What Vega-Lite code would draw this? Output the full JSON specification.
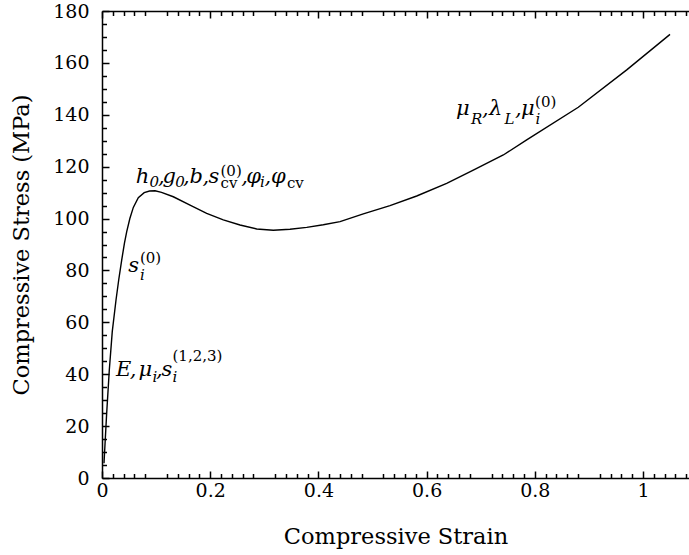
{
  "$schema": "https://vega.github.io/schema/vega-lite/v6.json",
  "width": 587,
  "height": 467,
  "autosize": {"type": "none"},
  "padding": {"left": 102, "top": 11, "right": 0, "bottom": 77},
  "background": "white",
  "config": {
    "view": {"stroke": null},
    "axis": {
      "grid": false,
      "domainColor": "black",
      "domainWidth": 1.5,
      "tickColor": "black",
      "tickWidth": 1.5,
      "labelColor": "black",
      "titleColor": "black",
      "labelFont": "DejaVu Serif",
      "titleFont": "DejaVu Serif",
      "labelFontSize": 19,
      "titleFontSize": 22.5,
      "titleFontWeight": "normal",
      "labelBound": false,
      "labelFlush": false,
      "labelOverlap": false
    },
    "text": {"color": "black", "align": "left", "baseline": "alphabetic", "font": "DejaVu Serif"}
  },
  "datasets": {
    "curve": [
      {"strain": 0.0037, "stress": 5.7},
      {"strain": 0.0085, "stress": 24.5},
      {"strain": 0.0135, "stress": 41.6},
      {"strain": 0.019, "stress": 56.5},
      {"strain": 0.0259, "stress": 68.6},
      {"strain": 0.031, "stress": 76.5},
      {"strain": 0.0364, "stress": 84.0},
      {"strain": 0.0415, "stress": 90.5},
      {"strain": 0.0457, "stress": 95.0},
      {"strain": 0.0515, "stress": 100.0},
      {"strain": 0.0579, "stress": 104.3},
      {"strain": 0.0671, "stress": 108.0},
      {"strain": 0.078, "stress": 110.0},
      {"strain": 0.088, "stress": 110.6},
      {"strain": 0.098, "stress": 110.7},
      {"strain": 0.11, "stress": 110.1},
      {"strain": 0.1318, "stress": 108.4},
      {"strain": 0.1627, "stress": 105.2},
      {"strain": 0.1935, "stress": 102.0},
      {"strain": 0.2242, "stress": 99.5},
      {"strain": 0.2551, "stress": 97.5},
      {"strain": 0.286, "stress": 96.0},
      {"strain": 0.3166, "stress": 95.5},
      {"strain": 0.3475, "stress": 95.9},
      {"strain": 0.3784, "stress": 96.6},
      {"strain": 0.409, "stress": 97.6},
      {"strain": 0.44, "stress": 98.8},
      {"strain": 0.483, "stress": 101.8},
      {"strain": 0.5323, "stress": 105.0},
      {"strain": 0.5817, "stress": 108.7},
      {"strain": 0.6371, "stress": 113.6},
      {"strain": 0.6863, "stress": 118.7},
      {"strain": 0.7418, "stress": 124.5},
      {"strain": 0.785, "stress": 130.3},
      {"strain": 0.8804, "stress": 142.9},
      {"strain": 0.9699, "stress": 157.3},
      {"strain": 1.0499, "stress": 171.0}
    ],
    "notes": [
      {"strain": 0.0259, "stress": 39.3, "t": "E", "role": "it"},
      {"strain": 0.0515, "stress": 39.3, "t": ",", "role": "it"},
      {"strain": 0.0675, "stress": 39.3, "t": "μ", "role": "it"},
      {"strain": 0.0933, "stress": 37.1, "t": "i", "role": "subit"},
      {"strain": 0.0998, "stress": 39.3, "t": ",", "role": "it"},
      {"strain": 0.11, "stress": 39.3, "t": "s", "role": "it"},
      {"strain": 0.1305, "stress": 36.9, "t": "i", "role": "subit"},
      {"strain": 0.1303, "stress": 45.1, "t": "(1,2,3)", "role": "rm"},

      {"strain": 0.0486, "stress": 79.5, "t": "s", "role": "it"},
      {"strain": 0.0702, "stress": 76.3, "t": "i", "role": "subit"},
      {"strain": 0.0702, "stress": 82.8, "t": "(0)", "role": "rm"},

      {"strain": 0.0623, "stress": 113.6, "t": "h", "role": "it"},
      {"strain": 0.0878, "stress": 112.2, "t": "0", "role": "subit"},
      {"strain": 0.1035, "stress": 113.6, "t": ",", "role": "it"},
      {"strain": 0.1118, "stress": 113.6, "t": "g", "role": "it"},
      {"strain": 0.1352, "stress": 112.2, "t": "0", "role": "subit"},
      {"strain": 0.1495, "stress": 113.6, "t": ",", "role": "it"},
      {"strain": 0.1617, "stress": 113.6, "t": "b", "role": "it"},
      {"strain": 0.1858, "stress": 113.6, "t": ",", "role": "it"},
      {"strain": 0.1969, "stress": 113.6, "t": "s", "role": "it"},
      {"strain": 0.219, "stress": 116.4, "t": "(0)", "role": "rm"},
      {"strain": 0.219, "stress": 111.6, "t": "cv", "role": "rm"},
      {"strain": 0.2575, "stress": 113.6, "t": ",", "role": "it"},
      {"strain": 0.2665, "stress": 113.6, "t": "φ", "role": "it"},
      {"strain": 0.2922, "stress": 112.2, "t": "i", "role": "subit"},
      {"strain": 0.3003, "stress": 113.6, "t": ",", "role": "it"},
      {"strain": 0.3125, "stress": 113.6, "t": "φ", "role": "it"},
      {"strain": 0.3418, "stress": 111.6, "t": "cv", "role": "rm"},

      {"strain": 0.6543, "stress": 139.9, "t": "μ", "role": "it"},
      {"strain": 0.6821, "stress": 136.3, "t": "R", "role": "subit"},
      {"strain": 0.7024, "stress": 139.9, "t": ",", "role": "it"},
      {"strain": 0.7153, "stress": 139.9, "t": "λ", "role": "it"},
      {"strain": 0.744, "stress": 136.3, "t": "L", "role": "subit"},
      {"strain": 0.7634, "stress": 139.9, "t": ",", "role": "it"},
      {"strain": 0.7745, "stress": 139.9, "t": "μ", "role": "it"},
      {"strain": 0.8013, "stress": 136.3, "t": "i", "role": "subit"},
      {"strain": 0.8004, "stress": 142.9, "t": "(0)", "role": "rm"}
    ]
  },
  "resolve": {"axis": {"x": "independent", "y": "independent"}},
  "layer": [
    {
      "data": {"name": "curve"},
      "mark": {"type": "line", "color": "black", "strokeWidth": 1.4},
      "encoding": {
        "x": {
          "field": "strain",
          "type": "quantitative",
          "scale": {"domain": [0, 1.085], "nice": false, "zero": false},
          "axis": {
            "orient": "bottom",
            "values": [0, 0.2, 0.4, 0.6, 0.8, 1],
            "format": "~g",
            "ticks": false,
            "tickSize": 0,
            "labelPadding": 3,
            "title": "Compressive Strain",
            "titlePadding": 25
          }
        },
        "y": {
          "field": "stress",
          "type": "quantitative",
          "scale": {"domain": [0, 180], "nice": false, "zero": false},
          "axis": {
            "orient": "left",
            "values": [0, 20, 40, 60, 80, 100, 120, 140, 160, 180],
            "ticks": false,
            "tickSize": 0,
            "labelPadding": 13,
            "title": "Compressive Stress (MPa)",
            "titlePadding": 19
          }
        }
      }
    },
    {
      "data": {"name": "curve"},
      "mark": {"type": "point", "opacity": 0},
      "encoding": {
        "x": {
          "field": "strain",
          "type": "quantitative",
          "scale": {"domain": [0, 1.085], "nice": false, "zero": false},
          "axis": {"orient": "bottom", "values": [0, 0.2, 0.4, 0.6, 0.8, 1], "tickSize": -7, "labels": false, "domain": false, "title": null}
        },
        "y": {
          "field": "stress",
          "type": "quantitative",
          "scale": {"domain": [0, 180], "nice": false, "zero": false},
          "axis": {"orient": "left", "values": [0, 20, 40, 60, 80, 100, 120, 140, 160, 180], "tickSize": -7, "labels": false, "domain": false, "title": null}
        }
      }
    },
    {
      "data": {"name": "curve"},
      "mark": {"type": "point", "opacity": 0},
      "encoding": {
        "x": {
          "field": "strain",
          "type": "quantitative",
          "scale": {"domain": [0, 1.085], "nice": false, "zero": false},
          "axis": {
            "orient": "bottom",
            "values": [0.02,0.04,0.06,0.08,0.12,0.14,0.16,0.18,0.22,0.24,0.26,0.28,0.32,0.34,0.36,0.38,0.42,0.44,0.46,0.48,0.52,0.54,0.56,0.58,0.62,0.64,0.66,0.68,0.72,0.74,0.76,0.78,0.82,0.84,0.86,0.88,0.92,0.94,0.96,0.98,1.02,1.04,1.06,1.08],
            "tickSize": -4.5, "labels": false, "domain": false, "title": null
          }
        },
        "y": {
          "field": "stress",
          "type": "quantitative",
          "scale": {"domain": [0, 180], "nice": false, "zero": false},
          "axis": {
            "orient": "left",
            "values": [5,10,15,25,30,35,45,50,55,65,70,75,85,90,95,105,110,115,125,130,135,145,150,155,165,170,175],
            "tickSize": -4.5, "labels": false, "domain": false, "title": null
          }
        }
      }
    },
    {
      "data": {"name": "curve"},
      "mark": {"type": "point", "opacity": 0},
      "encoding": {
        "x": {
          "field": "strain",
          "type": "quantitative",
          "scale": {"domain": [0, 1.085], "nice": false, "zero": false},
          "axis": {"orient": "top", "values": [0, 0.2, 0.4, 0.6, 0.8, 1], "tickSize": -7, "labels": false, "domain": true, "title": null}
        },
        "y": {"field": "stress", "type": "quantitative", "scale": {"domain": [0, 180], "nice": false, "zero": false}, "axis": null}
      }
    },
    {
      "data": {"name": "curve"},
      "mark": {"type": "point", "opacity": 0},
      "encoding": {
        "x": {
          "field": "strain",
          "type": "quantitative",
          "scale": {"domain": [0, 1.085], "nice": false, "zero": false},
          "axis": {
            "orient": "top",
            "values": [0.02,0.04,0.06,0.08,0.12,0.14,0.16,0.18,0.22,0.24,0.26,0.28,0.32,0.34,0.36,0.38,0.42,0.44,0.46,0.48,0.52,0.54,0.56,0.58,0.62,0.64,0.66,0.68,0.72,0.74,0.76,0.78,0.82,0.84,0.86,0.88,0.92,0.94,0.96,0.98,1.02,1.04,1.06,1.08],
            "tickSize": -4.5, "labels": false, "domain": false, "title": null
          }
        },
        "y": {"field": "stress", "type": "quantitative", "scale": {"domain": [0, 180], "nice": false, "zero": false}, "axis": null}
      }
    },
    {
      "data": {"name": "notes"},
      "transform": [{"filter": "datum.role === 'it'"}],
      "mark": {"type": "text", "fontStyle": "italic", "fontSize": 21},
      "encoding": {
        "x": {"field": "strain", "type": "quantitative", "scale": {"domain": [0, 1.085], "nice": false, "zero": false}, "axis": null},
        "y": {"field": "stress", "type": "quantitative", "scale": {"domain": [0, 180], "nice": false, "zero": false}, "axis": null},
        "text": {"field": "t"}
      }
    },
    {
      "data": {"name": "notes"},
      "transform": [{"filter": "datum.role === 'subit'"}],
      "mark": {"type": "text", "fontStyle": "italic", "fontSize": 15},
      "encoding": {
        "x": {"field": "strain", "type": "quantitative", "scale": {"domain": [0, 1.085], "nice": false, "zero": false}, "axis": null},
        "y": {"field": "stress", "type": "quantitative", "scale": {"domain": [0, 180], "nice": false, "zero": false}, "axis": null},
        "text": {"field": "t"}
      }
    },
    {
      "data": {"name": "notes"},
      "transform": [{"filter": "datum.role === 'rm'"}],
      "mark": {"type": "text", "fontSize": 15},
      "encoding": {
        "x": {"field": "strain", "type": "quantitative", "scale": {"domain": [0, 1.085], "nice": false, "zero": false}, "axis": null},
        "y": {"field": "stress", "type": "quantitative", "scale": {"domain": [0, 180], "nice": false, "zero": false}, "axis": null},
        "text": {"field": "t"}
      }
    }
  ]
}
